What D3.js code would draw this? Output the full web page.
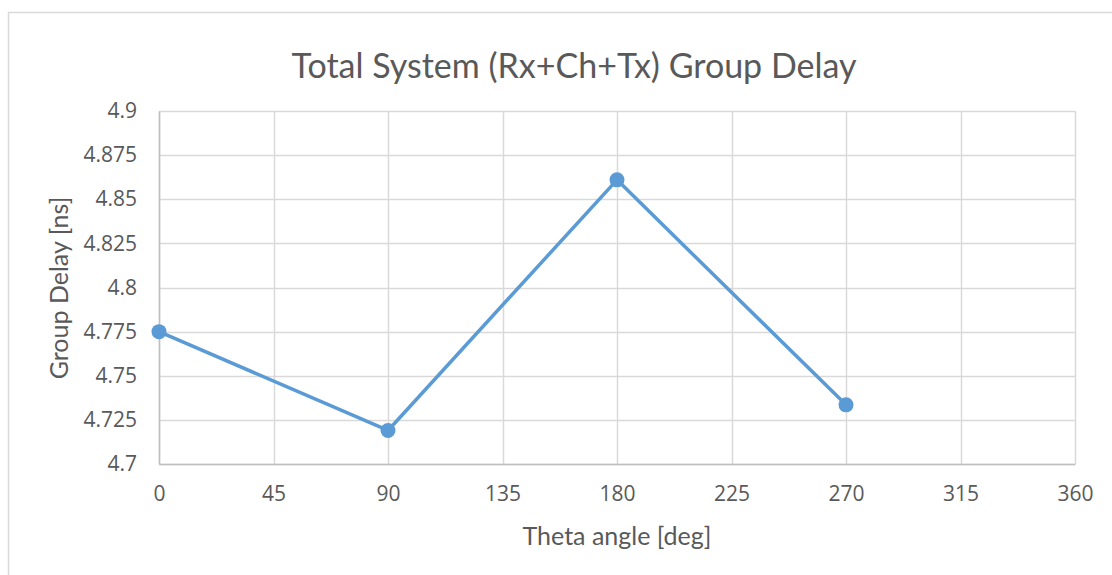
<!DOCTYPE html>
<html>
<head>
<meta charset="utf-8">
<script src="https://cdn.jsdelivr.net/npm/d3@7"></script>
<style>
  html, body { margin: 0; padding: 0; background: #fff; }
  svg { display: block; }
  text { fill: #595959; }
</style>
</head>
<body>
<svg id="chart" width="1112" height="575"></svg>
<script>
const title = "Total System (Rx+Ch+Tx) Group Delay";
const xLabel = "Theta angle [deg]";
const yLabel = "Group Delay [ns]";
const thetaValues = [0, 90, 180, 270];
const delayValues = [4.775, 4.719, 4.861, 4.7335];
const xTicks = [0, 45, 90, 135, 180, 225, 270, 315, 360];
const yTicks = [4.7, 4.725, 4.75, 4.775, 4.8, 4.825, 4.85, 4.875, 4.9];

const svg = d3.select("#chart");
const W = 1112, H = 575;
const pLeft = 159, pRight = 1075, pTop = 111, pBottom = 464;
const FONT = 'Lato, "Open Sans", sans-serif';
const TICKFONT = '"Open Sans", sans-serif';

// outer chart border
svg.append("path")
  .attr("d", `M8.5,${H} L8.5,12.5 L${W},12.5`)
  .attr("fill", "none").attr("stroke", "#d9d9d9").attr("stroke-width", 1.5);

const x = d3.scaleLinear().domain([0, 360]).range([pLeft, pRight]);
const y = d3.scaleLinear().domain([4.7, 4.9]).range([pBottom, pTop]);

// gridlines
const grid = svg.append("g");
grid.selectAll("line.h").data(yTicks).join("line")
  .attr("x1", pLeft).attr("x2", pRight)
  .attr("y1", d => Math.round(y(d)) + 0.5).attr("y2", d => Math.round(y(d)) + 0.5)
  .attr("stroke", "#d9d9d9").attr("stroke-width", 1.5);
grid.selectAll("line.v").data(xTicks).join("line")
  .attr("y1", pTop).attr("y2", pBottom)
  .attr("x1", d => Math.round(x(d)) + 0.5).attr("x2", d => Math.round(x(d)) + 0.5)
  .attr("stroke", "#d9d9d9").attr("stroke-width", 1.5);

// axes
const xAxis = d3.axisBottom(x).tickValues(xTicks).tickSize(0).tickPadding(22).tickFormat(d3.format("d"));
const gx = svg.append("g").attr("transform", `translate(0,${pBottom})`).call(xAxis);
gx.select(".domain").attr("stroke", "#bfbfbf").attr("stroke-width", 1.5);
gx.selectAll("text").style("font-size", "21px").style("fill", "#595959").style("font-family", TICKFONT);

const yAxis = d3.axisLeft(y).tickValues(yTicks).tickSize(0).tickPadding(22).tickFormat(d => String(+d.toFixed(3)));
const gy = svg.append("g").attr("transform", `translate(${pLeft},0)`).call(yAxis);
gy.select(".domain").attr("stroke", "#bfbfbf").attr("stroke-width", 1.5);
gy.selectAll("text").style("font-size", "21px").style("fill", "#595959").style("font-family", TICKFONT);

// title
svg.append("text").attr("x", 574).attr("y", 78).attr("text-anchor", "middle")
  .style("font-family", FONT).style("font-size", "34px").style("font-weight", 400).text(title);

// axis titles
svg.append("text").attr("x", 617).attr("y", 545).attr("text-anchor", "middle")
  .style("font-family", FONT).style("font-size", "25px").text(xLabel);
svg.append("text").attr("transform", `translate(68,288) rotate(-90)`)
  .attr("text-anchor", "middle")
  .style("font-family", FONT).style("font-size", "25px").text(yLabel);

// series
const pts = thetaValues.map((t, i) => [t, delayValues[i]]);
svg.append("path").datum(pts)
  .attr("d", d3.line().x(d => x(d[0])).y(d => y(d[1])))
  .attr("fill", "none").attr("stroke", "#5b9bd5").attr("stroke-width", 3.5).attr("stroke-linejoin", "round");
svg.selectAll("circle.pt").data(pts).join("circle")
  .attr("cx", d => x(d[0])).attr("cy", d => y(d[1])).attr("r", 7.5)
  .attr("fill", "#5b9bd5");
</script>
</body>
</html>
